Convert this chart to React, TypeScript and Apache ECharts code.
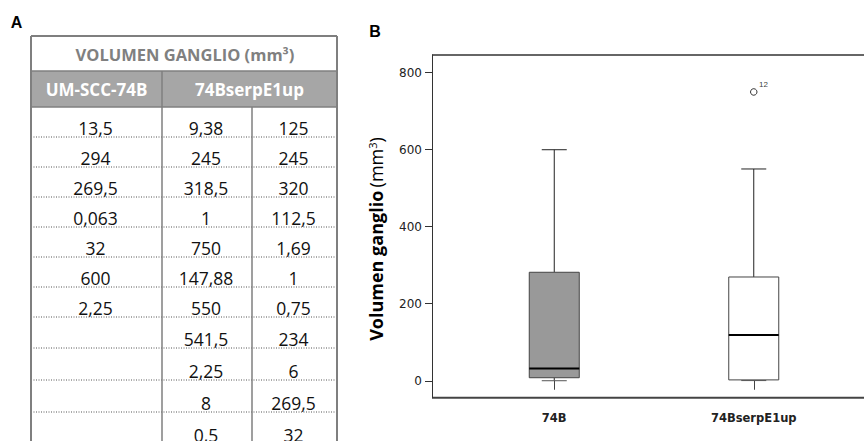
import React, { useEffect, useRef } from 'react';
import * as echarts from 'echarts';

// ---- data ----
const umScc74B = [13.5, 294, 269.5, 0.063, 32, 600, 2.25];
const serpE1upA = [9.38, 245, 318.5, 1, 750, 147.88, 550, 541.5, 2.25, 8, 0.5];
const serpE1upB = [125, 245, 320, 112.5, 1.69, 1, 0.75, 234, 6, 269.5, 32];
const categories = ['74B', '74BserpE1up'];
const yTicks = [0, 200, 400, 600, 800];
const tableTitle = 'VOLUMEN GANGLIO (mm³)';
const tableHeaders = ['UM-SCC-74B', '74BserpE1up'];

// ---- styles ----
const boxFills = ['#999999', '#ffffff'];
const FONT_TABLE = 'Open Sans';
const FONT_AXIS = 'DejaVu Sans';

function tukeyStats(values: number[]) {
  const s = [...values].sort((a, b) => a - b);
  const n = s.length;
  const fromBottom = (d: number) => (s[Math.floor(d) - 1] + s[Math.ceil(d) - 1]) / 2;
  const fromTop = (d: number) => (s[n - Math.floor(d)] + s[n - Math.ceil(d)]) / 2;
  const medDepth = (n + 1) / 2;
  const hingeDepth = (Math.floor(medDepth) + 1) / 2;
  const q1 = fromBottom(hingeDepth);
  const med = fromBottom(medDepth);
  const q3 = fromTop(hingeDepth);
  const iqr = q3 - q1;
  const lo = q1 - 1.5 * iqr;
  const hi = q3 + 1.5 * iqr;
  const inside = s.filter((v) => v >= lo && v <= hi);
  const outliers = s.filter((v) => v < lo || v > hi);
  return { min: inside[0], q1, med, q3, max: inside[inside.length - 1], outliers };
}

const fmt = (v: number) => String(v).replace('.', ',');

export default function App() {
  const ref = useRef<HTMLDivElement>(null);

  useEffect(() => {
    document.body.style.margin = '0';
    const chart = echarts.init(ref.current!, null, { renderer: 'svg' });

    const groups = [umScc74B, [...serpE1upA, ...serpE1upB]];
    const stats = groups.map(tukeyStats);
    const boxData = stats.map((st, i) => [i, st.min, st.q1, st.med, st.q3, st.max]);
    const outlierData: any[] = [];
    let offset = 0;
    groups.forEach((g, i) => {
      stats[i].outliers.forEach((v) => {
        outlierData.push({ value: [i, v], caseNo: offset + g.indexOf(v) + 1 });
      });
      offset += g.length;
    });

    // ---- table (panel A) ----
    const TL = 31, TR = 337, C1 = 162, C2 = 252;
    const TOP = 36, H1 = 71, H2 = 107, BOT = 441;
    const rowLines = [137, 167, 197, 227, 257, 287, 317, 348, 380, 412, 444];
    const colCenters = [(TL + C1) / 2, (C1 + C2) / 2, (C2 + TR) / 2];
    const columns = [umScc74B, serpE1upA, serpE1upB];
    const border = '#7f7f7f';

    const graphics: any[] = [];
    graphics.push({ type: 'rect', shape: { x: TL, y: H1, width: TR - TL, height: H2 - H1 }, style: { fill: '#a6a6a6' } });
    rowLines.forEach((y) => {
      graphics.push({ type: 'line', shape: { x1: TL, y1: y, x2: TR, y2: y }, style: { stroke: '#555', lineWidth: 1, lineDash: [1, 1.5] } });
    });
    const ln = (x1: number, y1: number, x2: number, y2: number, w: number) =>
      graphics.push({ type: 'line', shape: { x1, y1, x2, y2 }, style: { stroke: border, lineWidth: w } });
    ln(TL, TOP, TR, TOP, 2);
    ln(TL, TOP, TL, BOT, 2);
    ln(TR, TOP, TR, BOT, 2);
    ln(TL, H1, TR, H1, 1.5);
    ln(TL, H2, TR, H2, 1.5);
    ln(C1, H1, C1, BOT, 1.5);
    ln(C2, H2, C2, BOT, 1.5);

    graphics.push({
      type: 'text', x: (TL + TR) / 2 + 1, y: (TOP + H1) / 2 + 1,
      style: { text: tableTitle, fontFamily: FONT_TABLE, fontWeight: 'bold', fontSize: 16.5, fill: '#808080', align: 'center', verticalAlign: 'middle' },
    });
    const headerCenters = [(TL + C1) / 2, (C1 + TR) / 2];
    tableHeaders.forEach((h, i) => {
      graphics.push({
        type: 'text', x: headerCenters[i], y: (H1 + H2) / 2,
        style: { text: h, fontFamily: FONT_TABLE, fontWeight: 'bold', fontSize: 17, fill: '#ffffff', align: 'center', verticalAlign: 'middle' },
      });
    });
    columns.forEach((col, c) => {
      col.forEach((v, r) => {
        graphics.push({
          type: 'text', x: colCenters[c] - 1, y: rowLines[r] - 9,
          style: { text: fmt(v), fontFamily: FONT_TABLE, fontSize: 17.5, fill: '#111', align: 'center', verticalAlign: 'middle' },
        });
      });
    });

    // panel letters
    graphics.push({ type: 'text', x: 16.5, y: 22.5, style: { text: 'A', fontFamily: 'Liberation Sans', fontWeight: 'bold', fontSize: 16, fill: '#000', align: 'center', verticalAlign: 'middle' } });
    graphics.push({ type: 'text', x: 375, y: 31.5, style: { text: 'B', fontFamily: 'Liberation Sans', fontWeight: 'bold', fontSize: 16, fill: '#000', align: 'center', verticalAlign: 'middle' } });

    // plot frame (panel B)
    graphics.push({ type: 'line', shape: { x1: 432, y1: 55, x2: 864, y2: 55 }, style: { stroke: '#666', lineWidth: 2 } });
    graphics.push({ type: 'line', shape: { x1: 432, y1: 397.7, x2: 864, y2: 397.7 }, style: { stroke: '#444', lineWidth: 2 } });

    // y axis name
    graphics.push({
      type: 'text', x: 376, y: 239, rotation: Math.PI / 2,
      style: {
        text: '{b|Volumen ganglio} {n|(mm}{s|3}{n|)}',
        align: 'center', verticalAlign: 'middle', fill: '#000',
        rich: {
          b: { fontFamily: FONT_TABLE, fontWeight: 'bold', fontSize: 18, fill: '#000' },
          n: { fontFamily: FONT_TABLE, fontSize: 18, fill: '#000' },
          s: { fontFamily: FONT_TABLE, fontSize: 11, fill: '#000', verticalAlign: 'top' },
        },
      },
    });

    const option: any = {
      animation: false,
      grid: { left: 454.5, right: 10.5, top: 55, bottom: 43.3 },
      xAxis: {
        type: 'category',
        data: categories,
        axisLine: { show: false },
        axisTick: { show: true, alignWithLabel: true, length: 9, lineStyle: { color: '#444', width: 1 } },
        axisLabel: { fontFamily: FONT_AXIS, fontWeight: 'bold', fontSize: 11.5, color: '#222', margin: 14 },
        splitLine: { show: false },
      },
      yAxis: {
        type: 'value',
        min: -44,
        max: 846,
        offset: 22.5,
        axisLine: { show: true, lineStyle: { color: '#333', width: 1 } },
        axisTick: { show: true, length: 7, customValues: yTicks, lineStyle: { color: '#333' } },
        axisLabel: { customValues: yTicks, fontFamily: FONT_AXIS, fontSize: 12, color: '#222', margin: 10 },
        splitLine: { show: false },
      },
      graphic: graphics,
      series: [
        {
          type: 'custom',
          data: boxData,
          encode: { x: 0, y: [1, 2, 3, 4, 5] },
          renderItem: (params: any, api: any) => {
            const idx = api.value(0);
            const cx = api.coord([idx, api.value(1)])[0];
            const yMin = api.coord([idx, api.value(1)])[1];
            const yQ1 = api.coord([idx, api.value(2)])[1];
            const yMed = api.coord([idx, api.value(3)])[1];
            const yQ3 = api.coord([idx, api.value(4)])[1];
            const yMax = api.coord([idx, api.value(5)])[1];
            const bw = 50, cw = 25;
            const ls = { stroke: '#222', lineWidth: 1 };
            return {
              type: 'group',
              children: [
                { type: 'line', shape: { x1: cx, y1: yMax, x2: cx, y2: yQ3 }, style: ls },
                { type: 'line', shape: { x1: cx, y1: yQ1, x2: cx, y2: yMin }, style: ls },
                { type: 'line', shape: { x1: cx - cw / 2, y1: yMax, x2: cx + cw / 2, y2: yMax }, style: ls },
                { type: 'rect', shape: { x: cx - bw / 2, y: yQ3, width: bw, height: yQ1 - yQ3 }, style: { fill: boxFills[idx], stroke: '#444', lineWidth: 1 } },
                { type: 'line', shape: { x1: cx - cw / 2, y1: yMin, x2: cx + cw / 2, y2: yMin }, style: { stroke: '#555', lineWidth: 1 } },
                { type: 'line', shape: { x1: cx - bw / 2, y1: yMed, x2: cx + bw / 2, y2: yMed }, style: { stroke: '#000', lineWidth: 2 } },
              ],
            };
          },
        },
        {
          type: 'scatter',
          data: outlierData,
          symbol: 'circle',
          symbolSize: 6.5,
          itemStyle: { color: '#fff', borderColor: '#000', borderWidth: 1 },
          label: {
            show: true,
            position: [9, -8],
            formatter: (p: any) => String(p.data.caseNo),
            fontFamily: 'Liberation Sans',
            fontSize: 8,
            color: '#000',
          },
        },
      ],
    };

    chart.setOption(option);
    return () => chart.dispose();
  }, []);

  return <div ref={ref} style={{ width: 864, height: 441 }} />;
}
